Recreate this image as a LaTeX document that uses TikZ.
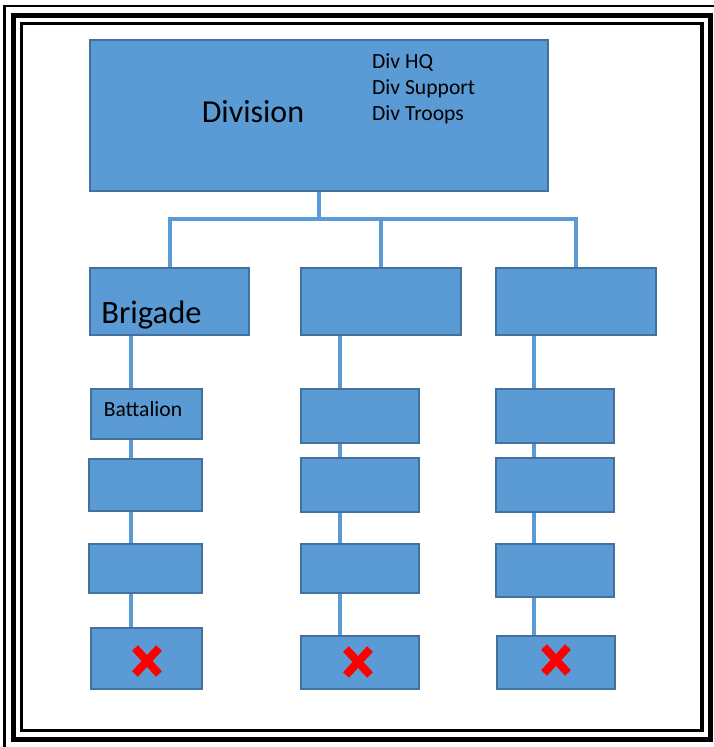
\documentclass[tikz,border=0pt]{standalone}
\usepackage{fontspec}
\setmainfont{Carlito}
\definecolor{boxblue}{HTML}{5B9BD5}
\definecolor{boxedge}{HTML}{41719C}
\definecolor{textdark}{HTML}{141A28}
\tikzset{
    unitbox/.style={draw=boxedge, fill=boxblue, line width=1.2pt, inner sep=0pt},
    link/.style={draw=boxblue, line width=4pt},
    redx/.pic={\draw[red, line width=8pt] (-12,-13) -- (12,13) (-12,13) -- (12,-13);}
}
\begin{document}
\begin{tikzpicture}[x=1pt, y=-1pt, font=\color{textdark}]
    \useasboundingbox (0,0) rectangle (714,747);

    % Frame
    \draw[line width=2.5pt] (4.5,747) -- (4.5,6) -- (714,6);
    \draw[line width=5pt] (13.5,15.5) rectangle (710.5,739);
    \draw[line width=3.5pt] (21.5,23.5) rectangle (702,730.5);

    % Division box
    \node[unitbox, minimum width=458pt, minimum height=151pt] (div) at (319,115.5) {};
    \node[anchor=base, font=\fontsize{32}{38}\selectfont] (divname) at (253,122) {Division};
    \node[anchor=north west, inner sep=0pt, align=left, font=\fontsize{21.6}{26}\selectfont] (divparts) at (372,53) {Div HQ\\Div Support\\Div Troops};

    % Brigades
    \node[unitbox, minimum width=159pt, minimum height=67pt] (brigA) at (169.5,301.5) {};
    \node[unitbox, minimum width=160pt, minimum height=67pt] (brigB) at (381,301.5) {};
    \node[unitbox, minimum width=160pt, minimum height=67pt] (brigC) at (576,301.5) {};
    \node[anchor=base, font=\fontsize{32.6}{38}\selectfont] (brigname) at (151.5,323) {Brigade};

    % Division to brigades
    \draw[link] (div.south) -- ++(0,27) coordinate (hub);
    \draw[link] (brigA.north) |- (hub) -| (brigC.north);
    \draw[link] (brigB.north) -- (brigB.north |- hub);

    % Battalions, left column
    \node[unitbox, minimum width=111pt, minimum height=50pt] (batA1) at (146.5,414) {};
    \node[unitbox, minimum width=113pt, minimum height=52pt] (batA2) at (145.5,485) {};
    \node[unitbox, minimum width=113pt, minimum height=49pt] (batA3) at (145.5,568.5) {};
    \node[unitbox, minimum width=111pt, minimum height=61pt] (batA4) at (146.5,658.5) {};
    \node[anchor=base, font=\fontsize{21.6}{26}\selectfont] (batname) at (143,416) {Battalion};

    % Battalions, middle column
    \node[unitbox, minimum width=118pt, minimum height=54pt] (batB1) at (360,416) {};
    \node[unitbox, minimum width=118pt, minimum height=54pt] (batB2) at (360,485) {};
    \node[unitbox, minimum width=118pt, minimum height=49pt] (batB3) at (360,568.5) {};
    \node[unitbox, minimum width=118pt, minimum height=53pt] (batB4) at (360,662.5) {};

    % Battalions, right column
    \node[unitbox, minimum width=118pt, minimum height=54pt] (batC1) at (555,416) {};
    \node[unitbox, minimum width=118pt, minimum height=54pt] (batC2) at (555,485) {};
    \node[unitbox, minimum width=118pt, minimum height=53pt] (batC3) at (555,570.5) {};
    \node[unitbox, minimum width=118pt, minimum height=53pt] (batC4) at (556,662.5) {};

    % Column links
    \coordinate (colA) at (131,0);
    \coordinate (colB) at (340,0);
    \coordinate (colC) at (534,0);
    \draw[link] (brigA.south -| colA) -- (batA1.north -| colA);
    \draw[link] (batA1.south -| colA) -- (batA2.north -| colA);
    \draw[link] (batA2.south -| colA) -- (batA3.north -| colA);
    \draw[link] (batA3.south -| colA) -- (batA4.north -| colA);
    \draw[link] (brigB.south -| colB) -- (batB1.north -| colB);
    \draw[link] (batB1.south -| colB) -- (batB2.north -| colB);
    \draw[link] (batB2.south -| colB) -- (batB3.north -| colB);
    \draw[link] (batB3.south -| colB) -- (batB4.north -| colB);
    \draw[link] (brigC.south -| colC) -- (batC1.north -| colC);
    \draw[link] (batC1.south -| colC) -- (batC2.north -| colC);
    \draw[link] (batC2.south -| colC) -- (batC3.north -| colC);
    \draw[link] (batC3.south -| colC) -- (batC4.north -| colC);

    % Struck-out battalions
    \pic at ([shift={(0.5,2.5)}]batA4.center) {redx};
    \pic at ([shift={(-2,-0.5)}]batB4.center) {redx};
    \pic at ([shift={(0,-2.5)}]batC4.center) {redx};
\end{tikzpicture}
\end{document}
